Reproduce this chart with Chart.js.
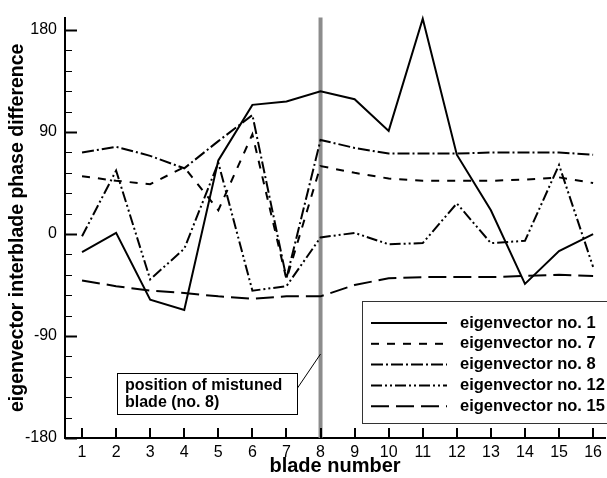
<!DOCTYPE html>
<html>
<head>
<meta charset="utf-8">
<script src="https://cdn.jsdelivr.net/npm/chart.js@4"></script>
<style>
  html, body { margin: 0; padding: 0; background: #fff; }
  #wrap { width: 607px; height: 478px; }
</style>
</head>
<body>
<div id="wrap"><canvas id="chart" width="607" height="478"></canvas></div>
<script>
const blades = [1, 2, 3, 4, 5, 6, 7, 8, 9, 10, 11, 12, 13, 14, 15, 16];
const ev1 = [-16, 1, -58, -67, 65, 114, 117, 126, 119, 91, 190, 70, 21, -44, -15, 0];
const ev7 = [51, 47, 44, 59, 21, 88, -40, 60, 54, 49, 47, 47, 47, 48, 50, 45];
const ev8 = [72, 77, 69, 58, 82, 105, -39, 83, 76, 71, 71, 71, 72, 72, 72, 70];
const ev12 = [-2, 56, -40, -13, 63, -50, -46, -3, 1, -9, -8, 27, -8, -6, 61, -29];
const ev15 = [-41, -46, -50, -52, -55, -57, -55, -55, -45, -39, -38, -38, -38, -37, -36, -37];
const yLabels = [-180, -90, 0, 90, 180];
const mistunedBlade = 8;

const FONT = "'Liberation Sans', Arial, Helvetica, sans-serif";

function pts(vals) {
  return blades.map((b, i) => ({ x: b, y: vals[i] }));
}

function series(label, vals, dash) {
  return {
    label: label,
    data: pts(vals),
    borderColor: "#000",
    borderWidth: 2,
    borderDash: dash,
    pointRadius: 0,
    tension: 0,
    fill: false,
    clip: false,
  };
}

// tick marks point inwards, plus the legend, the note box and the marker line
const decor = {
  id: "decor",
  beforeDatasetsDraw(chart) {
    const { ctx, chartArea, scales } = chart;
    const px = scales.x.getPixelForValue(mistunedBlade);
    ctx.save();
    ctx.strokeStyle = "#8c8c8c";
    ctx.lineWidth = 4;
    ctx.beginPath();
    ctx.moveTo(px, chartArea.top);
    ctx.lineTo(px, chartArea.bottom);
    ctx.stroke();
    ctx.restore();
  },
  afterDraw(chart) {
    const { ctx, chartArea, scales } = chart;
    const x = scales.x, y = scales.y;
    ctx.save();
    ctx.strokeStyle = "#000";

    // x ticks
    ctx.lineWidth = 2;
    blades.forEach((b) => {
      const px = Math.round(x.getPixelForValue(b));
      ctx.beginPath();
      ctx.moveTo(px, chartArea.bottom);
      ctx.lineTo(px, chartArea.bottom - 10);
      ctx.stroke();
    });

    // y ticks, major every 90, minor every 18
    for (let v = -180; v <= 180; v += 18) {
      const py = Math.round(y.getPixelForValue(v)) + 0.5;
      const major = yLabels.includes(v);
      ctx.lineWidth = major ? 2 : 1;
      ctx.beginPath();
      ctx.moveTo(chartArea.left, py);
      ctx.lineTo(chartArea.left + (major ? 12 : 7), py);
      ctx.stroke();
    }

    // note about the mistuned blade
    const mx = x.getPixelForValue(mistunedBlade);
    ctx.lineWidth = 1;
    ctx.fillStyle = "#fff";
    ctx.fillRect(117.5, 373.5, 180, 41);
    ctx.strokeRect(117.5, 373.5, 180, 41);
    ctx.beginPath();
    ctx.moveTo(297.5, 388);
    ctx.lineTo(mx, 354);
    ctx.stroke();
    ctx.fillStyle = "#000";
    ctx.font = "bold 16px " + FONT;
    ctx.textBaseline = "middle";
    ctx.textAlign = "left";
    ctx.fillText("position of mistuned", 125, 386);
    ctx.fillText("blade (no. 8)", 125, 403);

    // legend box runs off the right edge
    ctx.fillStyle = "#fff";
    ctx.strokeStyle = "#333";
    ctx.fillRect(362.5, 301.5, 252, 122);
    ctx.strokeRect(362.5, 301.5, 252, 122);
    ctx.font = "bold 16.5px " + FONT;
    chart.data.datasets.forEach((ds, i) => {
      const ly = 323 + i * 20.8;
      ctx.strokeStyle = "#000";
      ctx.lineWidth = ds.borderWidth;
      ctx.setLineDash(ds.borderDash || []);
      ctx.beginPath();
      ctx.moveTo(371, ly);
      ctx.lineTo(447, ly);
      ctx.stroke();
      ctx.setLineDash([]);
      ctx.fillStyle = "#000";
      ctx.fillText(ds.label, 460, ly);
    });
    ctx.restore();
  },
};

new Chart(document.getElementById("chart"), {
  type: "line",
  data: {
    datasets: [
      series("eigenvector no. 1", ev1, []),
      series("eigenvector no. 7", ev7, [8, 8]),
      series("eigenvector no. 8", ev8, [12, 3, 2, 3]),
      series("eigenvector no. 12", ev12, [11, 3, 2, 3, 2, 3]),
      series("eigenvector no. 15", ev15, [18, 7]),
    ],
  },
  options: {
    responsive: false,
    animation: false,
    layout: { padding: { top: 5, right: 0, left: 0, bottom: 0 } },
    plugins: {
      legend: { display: false },
      tooltip: { enabled: false },
    },
    scales: {
      x: {
        type: "linear",
        min: 0.5,
        max: 16.35,
        afterFit: (s) => { s.height = 40; },
        grid: { display: false, drawTicks: false },
        border: { display: true, color: "#000", width: 2 },
        ticks: {
          stepSize: 1,
          includeBounds: false,
          autoSkip: false,
          maxRotation: 0,
          padding: 5,
          color: "#000",
          font: { family: FONT, size: 16 },
          callback: (v) => (Number.isInteger(v) ? String(v) : ""),
        },
        title: {
          display: true,
          text: "blade number",
          color: "#000",
          font: { family: FONT, size: 20, weight: "bold", lineHeight: 1 },
          padding: { top: 0, bottom: 1.5 },
        },
      },
      y: {
        min: -180,
        max: 191,
        afterFit: (s) => { s.width = 65; },
        grid: { display: false, drawTicks: false },
        border: { display: true, color: "#000", width: 2 },
        ticks: {
          stepSize: 18,
          includeBounds: false,
          autoSkip: false,
          padding: 8,
          color: "#000",
          font: { family: FONT, size: 16 },
          callback: (v) => (yLabels.includes(v) ? String(v) : ""),
        },
        title: {
          display: true,
          text: "eigenvector interblade phase difference",
          color: "#000",
          font: { family: FONT, size: 19.5, weight: "bold", lineHeight: 1 },
          padding: { top: 7.5, bottom: 0 },
        },
      },
    },
  },
  plugins: [decor],
});
</script>
</body>
</html>
